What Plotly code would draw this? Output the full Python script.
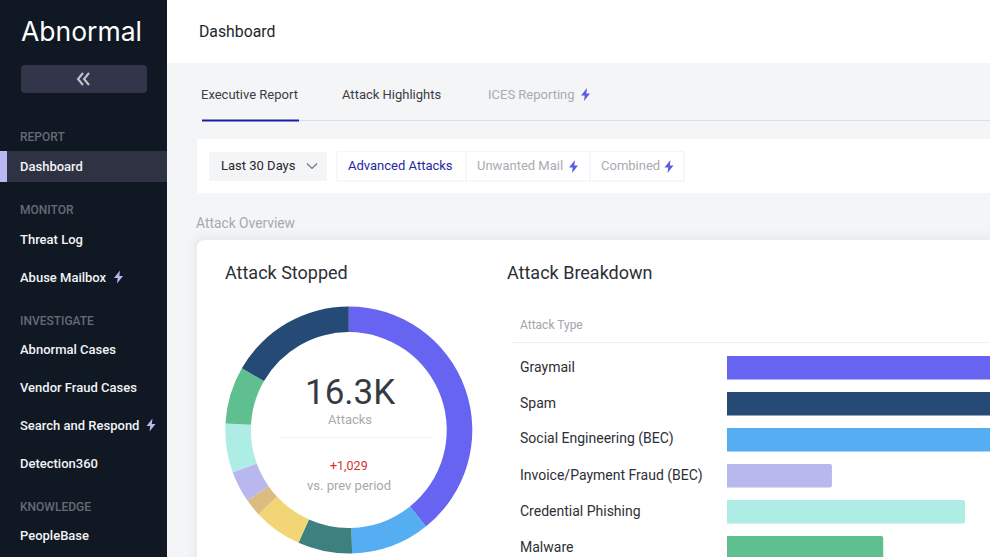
import plotly.graph_objects as go

W, H = 990, 557

# donut, clockwise from the top
donut_labels = ["Graymail", "Social Engineering (BEC)", "Teal segment", "Yellow segment", "Tan segment",
                "Invoice/Payment Fraud (BEC)", "Credential Phishing", "Malware", "Spam"]
donut_values = [6400, 1680, 1158, 1041, 362, 679, 1041, 1222, 2716]
donut_colors = ["#6864f2", "#55aef2", "#3e8080", "#f2d675", "#dcbd80", "#b9b8ee", "#aeece6", "#5fbf8f", "#264a76"]

# breakdown bars, first three run off the right edge of the screenshot
bar_labels = ["Graymail", "Spam", "Social Engineering (BEC)", "Invoice/Payment Fraud (BEC)",
              "Credential Phishing", "Malware"]
bar_values = [1500, 1300, 1200, 399, 905, 594]
bar_colors = ["#6864f2", "#264a76", "#55aef2", "#b9b8ee", "#aeece6", "#5fbf8f"]

FONT = "Roboto"
shapes = []
notes = []


def fx(x):
    return x / W


def fy(y):
    return 1 - y / H


def rect(x0, y0, x1, y1, color, r=0, line=None):
    # everything is placed in screenshot pixels
    if r:
        p = (f"M {fx(x0 + r)} {fy(y0)} L {fx(x1 - r)} {fy(y0)} Q {fx(x1)} {fy(y0)} {fx(x1)} {fy(y0 + r)} "
             f"L {fx(x1)} {fy(y1 - r)} Q {fx(x1)} {fy(y1)} {fx(x1 - r)} {fy(y1)} "
             f"L {fx(x0 + r)} {fy(y1)} Q {fx(x0)} {fy(y1)} {fx(x0)} {fy(y1 - r)} "
             f"L {fx(x0)} {fy(y0 + r)} Q {fx(x0)} {fy(y0)} {fx(x0 + r)} {fy(y0)} Z")
    else:
        p = f"M {fx(x0)} {fy(y0)} L {fx(x1)} {fy(y0)} L {fx(x1)} {fy(y1)} L {fx(x0)} {fy(y1)} Z"
    shapes.append(dict(type="path", path=p, xref="paper", yref="paper", fillcolor=color,
                       line=dict(width=1, color=line) if line else dict(width=0), layer="below"))


def hline(x0, x1, y, color, width=1):
    shapes.append(dict(type="line", xref="paper", yref="paper", x0=fx(x0), x1=fx(x1), y0=fy(y), y1=fy(y),
                       line=dict(color=color, width=width), layer="below"))


def vline(x, y0, y1, color, width=1):
    shapes.append(dict(type="line", xref="paper", yref="paper", x0=fx(x), x1=fx(x), y0=fy(y0), y1=fy(y1),
                       line=dict(color=color, width=width), layer="below"))


def poly(points, color, width=1.5):
    p = "M " + " L ".join(f"{fx(x)} {fy(y)}" for x, y in points)
    shapes.append(dict(type="path", path=p, xref="paper", yref="paper",
                       line=dict(color=color, width=width), layer="above"))


def bolt(x, y, color):
    pts = [(x + 1.5, y - 6.5), (x - 4.5, y + 1), (x - 0.8, y + 1), (x - 1.5, y + 6.5), (x + 4.5, y - 1), (x + 0.8, y - 1)]
    p = "M " + " L ".join(f"{fx(a)} {fy(b)}" for a, b in pts) + " Z"
    shapes.append(dict(type="path", path=p, xref="paper", yref="paper", fillcolor=color,
                       line=dict(width=0), layer="above"))


def label(x, y, text, size=13, color="#2c2f36", anchor="left", weight=400, family=FONT):
    notes.append(dict(x=fx(x), y=fy(y), xref="paper", yref="paper", text=text, showarrow=False,
                      xanchor=anchor, yanchor="middle", borderpad=0,
                      font=dict(family=family, size=size, color=color, weight=weight)))


# page blocks
rect(0, 0, W, H, "#f4f5f7")
rect(167, 0, W, 63, "#ffffff")
rect(0, 0, 167, H, "#101823")

# sidebar
label(19.5, 31, "Abnormal", size=26.5, color="#ffffff", family="Inter", weight=400)
rect(21, 65, 147, 93, "#33364a", r=4)
poly([(83, 73), (78, 79), (83, 85)], "#c3c5cf", 2)
poly([(89, 73), (84, 79), (89, 85)], "#c3c5cf", 2)
rect(0, 151, 167, 182, "#2f3242")
rect(0, 151, 7, 182, "#b9b8f0")

for text, y in [("REPORT", 137.5), ("MONITOR", 210), ("INVESTIGATE", 320.5), ("KNOWLEDGE", 506.5)]:
    label(18.5, y, text, size=12, color="#646b76", weight=500)
for text, y in [("Dashboard", 166.5), ("Threat Log", 239.5), ("Abuse Mailbox", 277), ("Abnormal Cases", 349.5),
                ("Vendor Fraud Cases", 387), ("Search and Respond", 425), ("Detection360", 463), ("PeopleBase", 535.5)]:
    label(19, y, text, size=13, color="#f2f3f5", weight=500)
bolt(118.5, 277, "#b9b8f0")
bolt(151, 425, "#b9b8f0")

# header and tabs
label(198, 31.5, "Dashboard", size=15.8, color="#23262c", weight=400)
label(200, 94.5, "Executive Report", size=13, color="#3a3d44")
label(341, 94.5, "Attack Highlights", size=13, color="#3a3d44")
label(487, 94.5, "ICES Reporting", size=13, color="#a9abb1")
bolt(585.5, 94.5, "#5a5ce0")
hline(299, W, 120.5, "#dddfe3", 1)
hline(202, 299, 120.5, "#1c1fa6", 2)

# filter bar
rect(197, 139, W, 193, "#ffffff")
rect(209, 152, 327, 181, "#f4f5f7", r=2)
label(220, 166, "Last 30 Days", size=13, color="#25282e")
poly([(307, 163.5), (312, 168.5), (317, 163.5)], "#70747c", 1.2)
hline(337, 684, 151.5, "#f4f5f6")
hline(337, 684, 181, "#f0f1f3")
for x in [337, 466, 590, 684]:
    vline(x, 151.5, 181, "#eef0f2")
label(347, 166, "Advanced Attacks", size=13, color="#1f28a0")
label(476, 166, "Unwanted Mail", size=13, color="#a9abb1")
bolt(573.5, 166.5, "#5a5ce0")
label(600, 166, "Combined", size=13, color="#a9abb1")
bolt(669, 166.5, "#5a5ce0")
label(195, 222.5, "Attack Overview", size=13.8, color="#a6a9ae")

# card with a soft shadow
for grow, tint in [(10, "rgba(40,50,70,0.006)"), (7, "rgba(40,50,70,0.008)"), (4, "rgba(40,50,70,0.012)"),
                   (2, "rgba(40,50,70,0.016)")]:
    rect(197 - grow, 240 - grow, W + 20, H + 20, tint, r=8 + grow)
rect(197, 240, W + 20, H + 20, "#ffffff", r=8)

label(224, 272.5, "Attack Stopped", size=18, color="#2c2f36")
label(506, 272.5, "Attack Breakdown", size=18, color="#2c2f36")
label(519, 325, "Attack Type", size=12, color="#a3a6ab")
hline(512, W, 342.5, "#eff0f2")

# donut centre
label(349.5, 392, "16.3K", size=35, color="#363a42", anchor="center")
label(349.5, 419.5, "Attacks", size=13, color="#a9abb0", anchor="center")
hline(280, 432, 437.5, "#f1f2f3")
label(349, 465.5, "+1,029", size=12.5, color="#d2322d", anchor="center")
label(349, 485, "vs. prev period", size=13, color="#a6a8ad", anchor="center")

# bar row labels sit left aligned on the same category axis
for name in bar_labels:
    notes.append(dict(x=fx(519), y=name, xref="paper", yref="y", text=name, showarrow=False, xanchor="left",
                      yanchor="middle", borderpad=0, yshift=0.7, font=dict(family=FONT, size=14, color="#2c2f36")))

fig = go.Figure()
fig.add_trace(go.Pie(labels=donut_labels, values=donut_values, hole=0.793, sort=False, direction="clockwise",
                     rotation=0, textinfo="none", marker=dict(colors=donut_colors, line=dict(width=0)),
                     domain=dict(x=[fx(348.8 - 123.5), fx(348.8 + 123.5)], y=[fy(430 + 123.5), fy(430 - 123.5)])))
fig.add_trace(go.Bar(x=bar_values, y=bar_labels, orientation="h", marker=dict(color=bar_colors, line=dict(width=0))))

fig.update_layout(
    width=W, height=H, margin=dict(l=0, r=0, t=0, b=0), autosize=False,
    paper_bgcolor="#f4f5f7", plot_bgcolor="#f8f9fc", showlegend=False,
    bargap=0.35, barcornerradius=2, shapes=shapes, annotations=notes,
    xaxis=dict(domain=[fx(727), 1], range=[0, 1000], visible=False),
    yaxis=dict(domain=[0, fy(345)], type="category", range=[5.258, -0.63], visible=False),
)
# the page's default body margin would shift the screenshot by 8px
fig.write_html("out.html", config=dict(displayModeBar=False), post_script="document.body.style.margin='0';")
